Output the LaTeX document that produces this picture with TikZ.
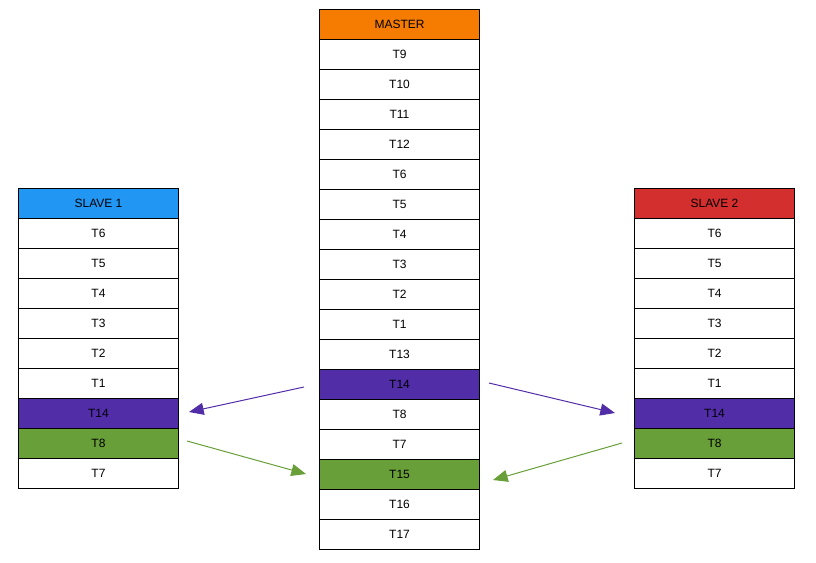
\documentclass[tikz,border=0pt]{standalone}
\usepackage{fontspec}
\setmainfont{Liberation Sans}
\usetikzlibrary{arrows.meta}
\definecolor{cmaster}{HTML}{F57C00}
\definecolor{cslaveA}{HTML}{2196F3}
\definecolor{cslaveB}{HTML}{D32F2F}
\definecolor{cpurple}{HTML}{512DA8}
\definecolor{cgreen}{HTML}{689F38}
\tikzset{
  cell/.style={draw=black, line width=0.75pt, minimum width=120pt, minimum height=22.5pt, inner sep=0pt, anchor=north west, font=\fontsize{9}{11}\selectfont, text=black},
  purplecell/.style={cell, fill=cpurple},
  greencell/.style={cell, fill=cgreen},
  parrow/.style={draw=cpurple, line width=0.75pt, -{Triangle[length=11pt,width=9pt]}},
  garrow/.style={draw=cgreen, line width=0.75pt, -{Triangle[length=11pt,width=9pt]}},
}
\begin{document}
\begin{tikzpicture}[x=0.75pt,y=-0.75pt]
\useasboundingbox (0,0) rectangle (816,563);
% master column
\node[cell, fill=cmaster] (m0) at (319,9) {MASTER};
\foreach \t [count=\i from 1] in {T9,T10,T11,T12,T6,T5,T4,T3,T2,T1,T13}{
  \node[cell] (m\i) at (319,{9+30*\i}) {\t};
}
\node[purplecell] (m12) at (319,369) {T14};
\node[cell] (m13) at (319,399) {T8};
\node[cell] (m14) at (319,429) {T7};
\node[greencell] (m15) at (319,459) {T15};
\node[cell] (m16) at (319,489) {T16};
\node[cell] (m17) at (319,519) {T17};
% slave 1
\node[cell, fill=cslaveA] (a0) at (18,188) {SLAVE 1};
\foreach \t [count=\i from 1] in {T6,T5,T4,T3,T2,T1}{
  \node[cell] (a\i) at (18,{188+30*\i}) {\t};
}
\node[purplecell] (a7) at (18,398) {T14};
\node[greencell] (a8) at (18,428) {T8};
\node[cell] (a9) at (18,458) {T7};
% slave 2
\node[cell, fill=cslaveB] (b0) at (634,188) {SLAVE 2};
\foreach \t [count=\i from 1] in {T6,T5,T4,T3,T2,T1}{
  \node[cell] (b\i) at (634,{188+30*\i}) {\t};
}
\node[purplecell] (b7) at (634,398) {T14};
\node[greencell] (b8) at (634,428) {T8};
\node[cell] (b9) at (634,458) {T7};
% arrow end points
\coordinate (p1s) at (304,387);
\coordinate (p1e) at (189,412);
\coordinate (g1s) at (187,441);
\coordinate (g1e) at (306,474);
\coordinate (p2s) at (489,383);
\coordinate (p2e) at (615,413);
\coordinate (g2s) at (622,443);
\coordinate (g2e) at (493,480);
\draw[parrow] (p1s) -- (p1e);
\draw[garrow] (g1s) -- (g1e);
\draw[parrow] (p2s) -- (p2e);
\draw[garrow] (g2s) -- (g2e);
\end{tikzpicture}
\end{document}
